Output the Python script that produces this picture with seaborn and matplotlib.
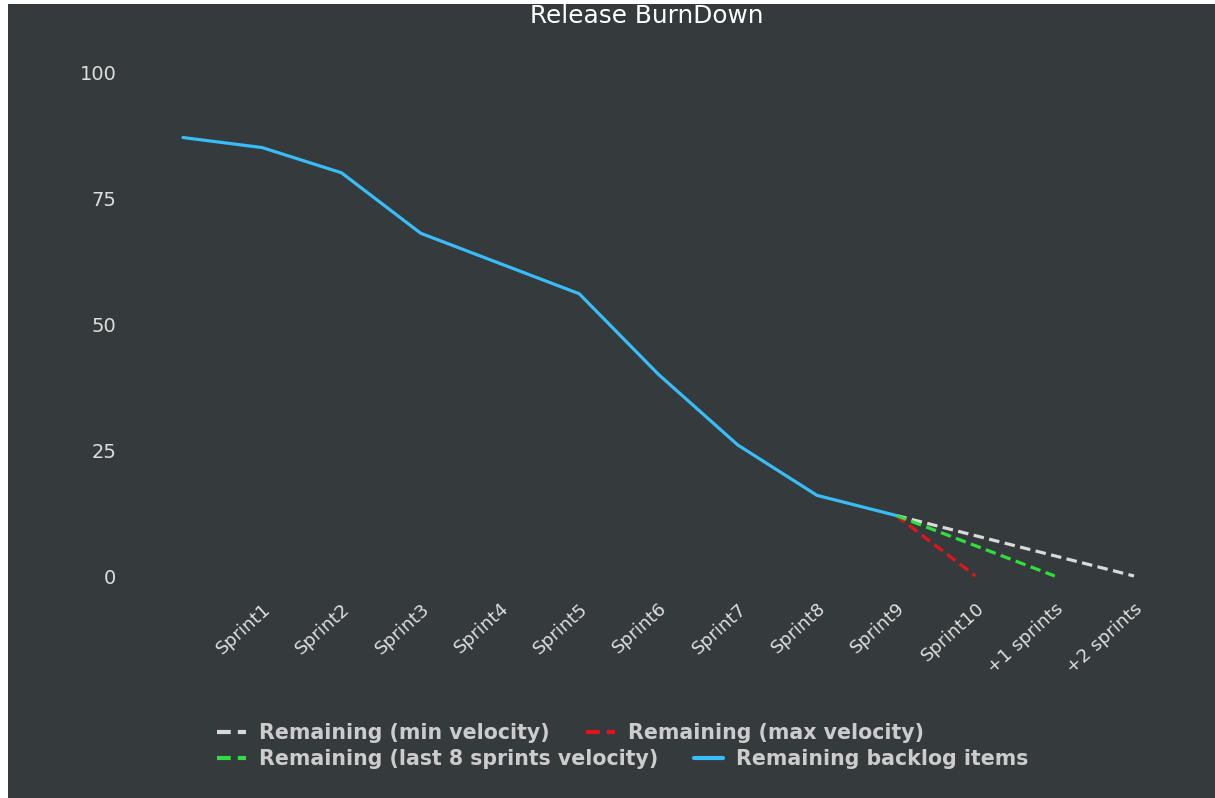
import numpy as np
import pandas as pd
import matplotlib
matplotlib.use("Agg")
import matplotlib.pyplot as plt
from matplotlib.patches import Rectangle
from matplotlib.lines import Line2D
import seaborn as sns

# chart data
sprint_labels = ["", "Sprint1", "Sprint2", "Sprint3", "Sprint4", "Sprint5", "Sprint6",
                 "Sprint7", "Sprint8", "Sprint9", "Sprint10", "+1 sprints", "+2 sprints"]
backlog = [87, 85, 80, 68, 62, 56, 40, 26, 16, 12]
min_velocity = [12, 8, 4, 0]
max_velocity = [12, 0]
last8_velocity = [12, 6, 0]
proj_start = len(backlog) - 1   # projections start from the last real sprint

bg = "#353a3d"
sns.set_style("dark", {"axes.facecolor": bg, "figure.facecolor": bg})
plt.rcParams["font.family"] = ["DejaVu Sans"]

fig = plt.figure(figsize=(12.15, 7.98), dpi=100)
# thin white strip on the left and top edges
fig.patches.append(Rectangle((0, 0), 8 / 1215, 1, transform=fig.transFigure,
                             facecolor="white", edgecolor="none"))
fig.patches.append(Rectangle((0, 1 - 4 / 798), 1, 4 / 798, transform=fig.transFigure,
                             facecolor="white", edgecolor="none"))
ax = fig.add_axes([183 / 1215, 1 - 576 / 798, (1134 - 183) / 1215, (576 - 72) / 798])
ax.set_facecolor(bg)

lw = 2.3
dash = (0, (3.3, 1.7))

series = [
    ("Remaining (min velocity)", min_velocity, "#d9d9d9", dash),
    ("Remaining (max velocity)", max_velocity, "#e0141c", dash),
    ("Remaining (last 8 sprints velocity)", last8_velocity, "#2ee03c", dash),
]
handles = {}
for name, vals, col, ls in series:
    df = pd.DataFrame({"x": proj_start + np.arange(len(vals)), "y": vals})
    sns.lineplot(data=df, x="x", y="y", ax=ax, color=col, linewidth=lw, linestyle=ls,
                 clip_on=False, zorder=2)
    handles[name] = Line2D([], [], color=col, linewidth=lw + 0.7, linestyle=ls)

df_b = pd.DataFrame({"x": np.arange(len(backlog)), "y": backlog})
sns.lineplot(data=df_b, x="x", y="y", ax=ax, color="#38bdf8", linewidth=lw,
             clip_on=False, zorder=3)
handles["Remaining backlog items"] = Line2D([], [], color="#38bdf8", linewidth=lw + 0.7)

ax.set_xlim(0, len(sprint_labels) - 1)
ax.set_ylim(0, 100)
ax.set_yticks([0, 25, 50, 75, 100])
ax.set_xticks(np.arange(len(sprint_labels)))
ax.set_xticklabels(sprint_labels, rotation=42, ha="right", rotation_mode="anchor", va="top")
ax.tick_params(axis="y", length=0, pad=48, labelsize=14, labelcolor="#dedede")
ax.tick_params(axis="x", length=0, pad=17, labelsize=13.2, labelcolor="#dedede")
ax.set_xlabel("")
ax.set_ylabel("")
for s in ax.spines.values():
    s.set_visible(False)
ax.grid(False)

fig.text(647 / 1215, 1 - 16 / 798, "Release BurnDown", ha="center", va="center",
         fontsize=17.8, color="white")

leg_kw = dict(ncol=2, frameon=False, loc="center left", borderpad=0, borderaxespad=0,
              handlelength=1.4, handletextpad=0.65, columnspacing=1.75,
              prop={"size": 14.8, "weight": "bold"}, labelcolor="#cccccc")
rows = [["Remaining (min velocity)", "Remaining (max velocity)"],
        ["Remaining (last 8 sprints velocity)", "Remaining backlog items"]]
for row, ypx in zip(rows, [733, 759]):
    fig.legend([handles[n] for n in row], row,
               bbox_to_anchor=(217 / 1215, 1 - ypx / 798), **leg_kw)

fig.savefig("out.png", dpi=100)
